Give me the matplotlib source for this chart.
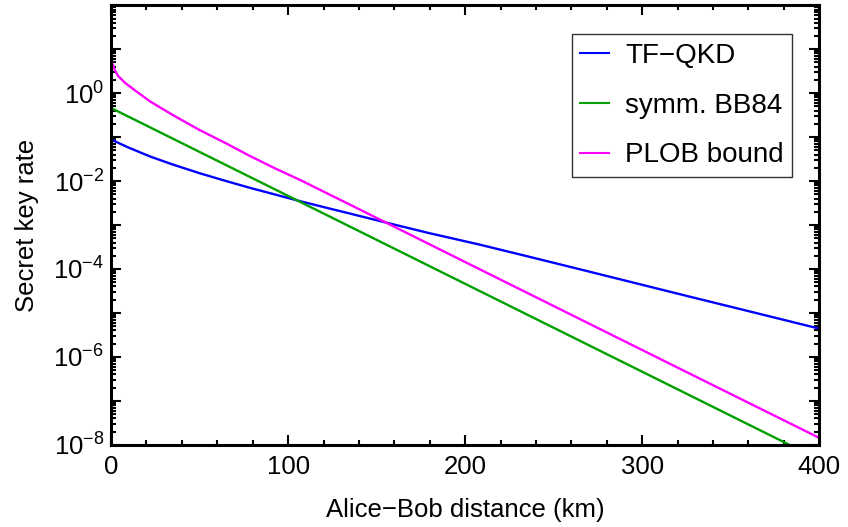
import matplotlib
matplotlib.use('Agg')
import matplotlib.pyplot as plt
import matplotlib.ticker as mticker
import numpy as np

plt.rcParams['font.family'] = ['Liberation Sans', 'DejaVu Sans']
plt.rcParams['mathtext.fontset'] = 'custom'
plt.rcParams['mathtext.rm'] = 'Liberation Sans'
plt.rcParams['mathtext.it'] = 'Liberation Sans:italic'

# distances (km) and rates
tf_dist = [0, 2, 10, 22, 35, 50, 65, 78, 93, 107, 124, 135, 158, 180, 208, 235, 265, 295, 327, 360, 400]
tf_rate = [0.089, 0.081, 0.0575, 0.0363, 0.0237, 0.0151, 0.0100, 0.0071, 0.0049, 0.00347,
           0.00234, 0.00182, 0.00107, 6.5e-4, 3.6e-4, 1.95e-4, 9.8e-5, 4.9e-5, 2.34e-5, 1.1e-5, 4.4e-6]

bb84_dist = [0, 100, 200, 300, 400]
bb84_rate = [0.46, 4.6e-3, 4.6e-5, 4.6e-7, 4.6e-9]

plob_dist = [0.005, 0.02, 0.1, 0.3, 0.6, 1, 2, 4, 8, 14, 22, 35, 50, 65, 78, 92, 107, 135,
             200, 265, 330, 400]
plob_rate = [13.5, 9.8, 7.8, 6.0, 5.1, 4.5, 3.4, 2.45, 1.7, 1.12, 0.65, 0.316, 0.145, 0.072,
             0.038, 0.020, 0.0105, 0.0029, 1.44e-4, 7.2e-6, 3.6e-7, 1.44e-8]

fig = plt.figure(figsize=(8.48, 5.27), dpi=100)
ax = fig.add_axes([0.131, 0.156, 0.835, 0.834])

ax.plot(tf_dist, tf_rate, color='#0000ff', lw=1.7, label='TF\u2212QKD')
ax.plot(bb84_dist, bb84_rate, color='#00a000', lw=1.7, label='symm. BB84')
ax.plot(plob_dist, plob_rate, color='#ff00ff', lw=1.7, label='PLOB bound')

ax.set_yscale('log')
ax.set_xlim(0, 400)
ax.set_ylim(1e-8, 1e2)

ax.xaxis.set_major_locator(mticker.MultipleLocator(100))
ax.xaxis.set_minor_locator(mticker.MultipleLocator(20))
ax.yaxis.set_major_locator(mticker.LogLocator(base=10, numticks=20))
ax.yaxis.set_minor_locator(mticker.LogLocator(base=10, subs=np.arange(2, 10), numticks=20))


def ylab(v, pos):
    e = int(round(np.log10(v)))
    if e % 2 == 0 and e <= 0:
        return r'$10^{%d}$' % e
    return ''


ax.yaxis.set_major_formatter(mticker.FuncFormatter(ylab))
ax.yaxis.set_minor_formatter(mticker.NullFormatter())

ax.tick_params(which='both', direction='in', top=True, right=True, width=1.5, labelsize=18.5)
ax.tick_params(which='major', length=7)
ax.tick_params(which='minor', length=3.5)
ax.tick_params(axis='x', which='major', pad=7)
ax.tick_params(axis='y', which='major', pad=5)
for s in ax.spines.values():
    s.set_linewidth(2.2)

ax.set_xlabel('Alice\u2212Bob distance (km)', fontsize=18.5, labelpad=14)
ax.set_ylabel('Secret key rate', fontsize=18.5, labelpad=10)

leg = ax.legend(loc='upper right', bbox_to_anchor=(0.962, 0.934), borderaxespad=0,
                fontsize=20, fancybox=False, edgecolor='#333333', framealpha=1,
                handlelength=1.04, handletextpad=0.58, borderpad=0.3, labelspacing=0.86)
leg.get_frame().set_linewidth(1.0)
for line in leg.get_lines():
    line.set_linewidth(1.5)

fig.savefig('out.png', dpi=100)
